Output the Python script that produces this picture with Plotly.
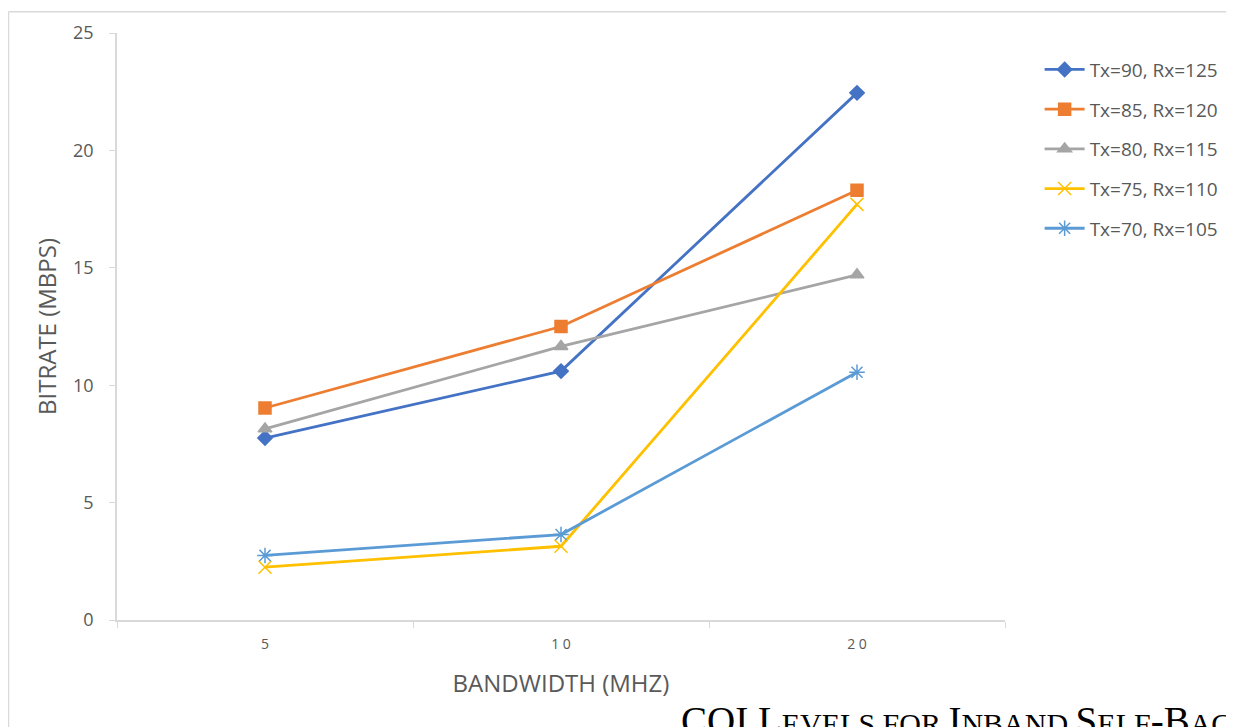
import plotly.graph_objects as go

bandwidth = ["5", "10", "20"]
bandwidth_labels = ["5", "1 0", "2 0"]
series_names = ["Tx=90, Rx=125", "Tx=85, Rx=120", "Tx=80, Rx=115", "Tx=75, Rx=110", "Tx=70, Rx=105"]
tx90 = [7.75, 10.6, 22.45]
tx85 = [9.03, 12.5, 18.3]
tx80 = [8.14, 11.65, 14.7]
tx75 = [2.25, 3.14, 17.7]
tx70 = [2.75, 3.64, 10.55]

values = [tx90, tx85, tx80, tx75, tx70]
colors = ["#4472C4", "#ED7D31", "#A5A5A5", "#FFC000", "#5B9BD5"]
symbols = ["diamond", "square", "triangle-up", "x-thin-open", "asterisk-open"]
sizes = [11, 12, 12, 13, 13]

fig = go.Figure()
for i, (name, vals, c, s, sz) in enumerate(zip(series_names, values, colors, symbols, sizes)):
    fig.add_trace(go.Scatter(
        x=bandwidth, y=vals, name=name, mode="lines+markers", legendgroup=f"g{i}",
        line=dict(color=c, width=2.8),
        marker=dict(symbol=s, size=sz, color=c, line=dict(color=c, width=1.5)),
    ))

fig.update_layout(
    width=1234, height=727,
    margin=dict(l=109, r=237, t=22, b=115),
    paper_bgcolor="white", plot_bgcolor="white",
    font=dict(family="Open Sans", color="#595959"),
    showlegend=True,
    legend=dict(x=1.039, y=0.97, xanchor="left", yanchor="top",
                font=dict(size=19, color="#595959"), tracegroupgap=12,
                itemwidth=40),
    xaxis=dict(
        type="category", categoryorder="array", categoryarray=bandwidth,
        tickvals=bandwidth, ticktext=bandwidth_labels,
        showline=True, linecolor="#D9D9D9", linewidth=1.5,
        ticks="outside", ticklen=6, tickcolor="#D9D9D9", ticklabelstandoff=10,
        tickson="boundaries", showgrid=False, zeroline=False,
        tickfont=dict(size=14, color="#595959"),
        title=dict(text="BANDWIDTH (MHZ)", font=dict(size=24, color="#595959"), standoff=24),
        range=[-0.5, 2.5],
    ),
    yaxis=dict(
        range=[0, 25], dtick=5, showline=True, linecolor="#D9D9D9", linewidth=1.5,
        ticks="outside", ticklen=6, tickcolor="#D9D9D9", ticklabelstandoff=12,
        showgrid=False, zeroline=False,
        tickfont=dict(size=18, color="#595959"),
        title=dict(text="BITRATE (MBPS)", font=dict(size=24, color="#595959"), standoff=10),
    ),
)

# page border (top and left)
fig.add_shape(type="line", xref="paper", yref="paper", x0=-0.1222, x1=1.3, y0=1.0364, y1=1.0364,
              line=dict(color="#D9D9D9", width=1.5))
fig.add_shape(type="line", xref="paper", yref="paper", x0=-0.1222, x1=-0.1222, y0=-0.2, y1=1.0364,
              line=dict(color="#D9D9D9", width=1.5))

fig.add_annotation(
    xref="paper", yref="paper", x=0.633, y=-0.1705,
    xanchor="left", yanchor="middle", showarrow=False,
    text='CQI L<span style="font-size:30px">EVELS FOR </span>I<span style="font-size:30px">NBAND </span>S<span style="font-size:30px">ELF</span>-B<span style="font-size:30px">ACKHAUL</span>',
    font=dict(family="Liberation Serif", size=39, color="#000000"),
)

fig.write_html("out.html")
